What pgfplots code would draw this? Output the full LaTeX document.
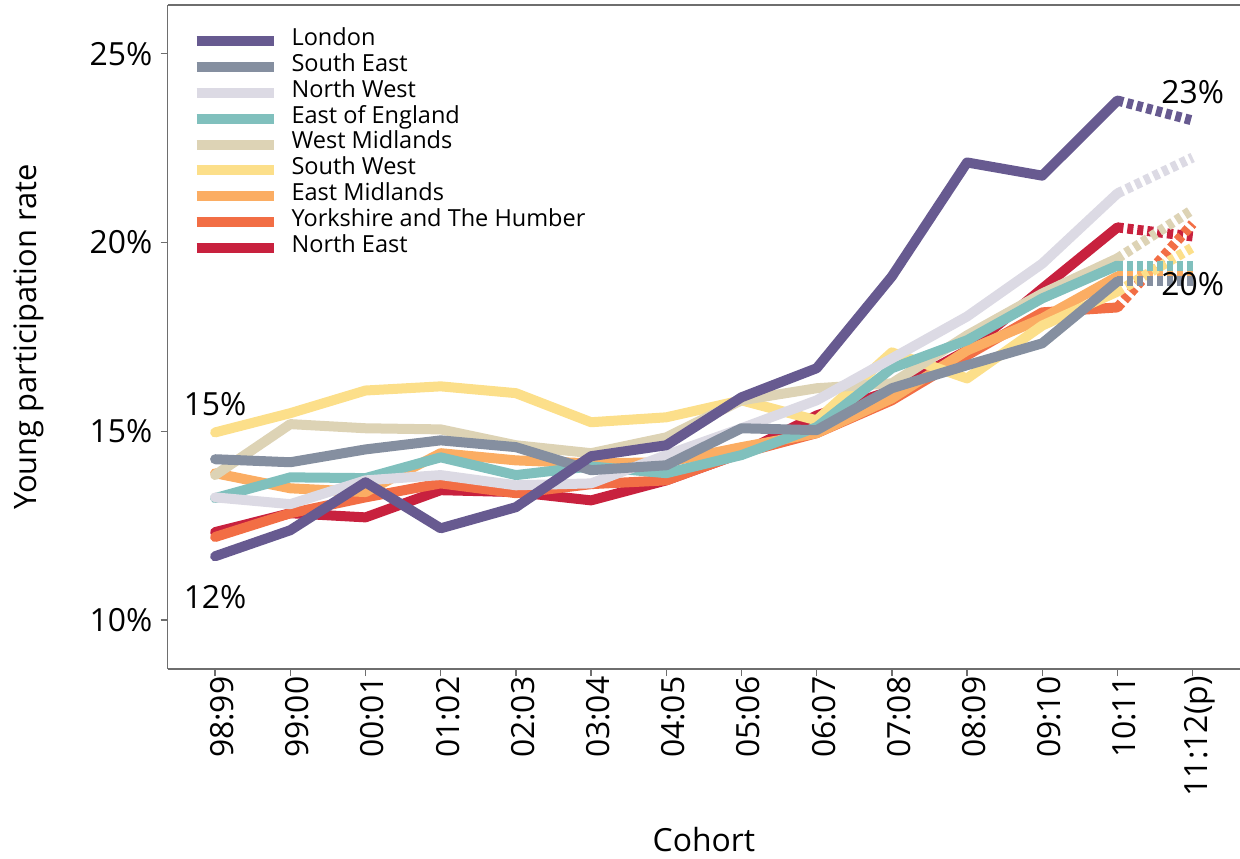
\documentclass[border=0pt]{standalone}
\usepackage{fontspec}
\setmainfont{Open Sans}
\usepackage{pgfplots}
\usepackage{pgfplotstable}
\pgfplotsset{compat=1.18}

\definecolor{london}{HTML}{675A90}
\definecolor{southeast}{HTML}{858FA0}
\definecolor{northwest}{HTML}{DCDAE4}
\definecolor{eastengland}{HTML}{80C0BD}
\definecolor{westmid}{HTML}{DDD3B5}
\definecolor{southwest}{HTML}{FCDF8A}
\definecolor{eastmid}{HTML}{FBAD63}
\definecolor{yorks}{HTML}{F26E45}
\definecolor{northeast}{HTML}{C8213E}
\definecolor{axisgray}{HTML}{6E6E6E}

% participation rate (%) by cohort, 0 = 98:99 ... 13 = 11:12(p)
\pgfplotstableread{
x  LON    SE     NW     EOE    WM     SW     EM     YH     NE
0  11.69  14.26  13.25  13.23  13.84  14.97  13.89  12.20  12.33
1  12.38  14.18  13.07  13.78  15.19  15.48  13.49  12.83  12.83
2  13.65  14.52  13.70  13.76  15.08  16.08  13.39  13.25  12.72
3  12.43  14.76  13.84  14.31  15.05  16.19  14.42  13.62  13.44
4  12.99  14.58  13.57  13.84  14.63  16.01  14.23  13.36  13.39
5  14.34  13.97  13.62  14.07  14.42  15.24  14.15  13.60  13.17
6  14.63  14.10  14.37  13.89  14.84  15.37  14.18  13.70  13.70
7  15.90  15.08  15.08  14.37  15.82  15.82  14.58  14.42  14.42
8  16.67  15.03  15.82  15.11  16.14  15.29  14.95  14.95  15.42
9  19.10  16.14  16.93  16.67  16.27  17.09  15.87  15.82  16.08
10 22.12  16.75  18.04  17.41  17.54  16.40  17.14  17.01  17.14
11 21.77  17.33  19.44  18.52  18.65  17.80  17.99  18.15  18.78
12 23.76  18.97  21.30  19.39  19.58  18.70  19.10  18.28  20.40
13 23.23  18.97  22.25  19.39  20.87  19.87  19.10  20.50  20.16
}\data

% solid line up to 10:11, dashed to the provisional 11:12
\newcommand{\region}[3]{%
  \addplot[#2, line width=5bp, line cap=round, line join=round,
    skip coords between index={13}{14}] table[x=x, y=#1] {\data};
  \addlegendentry{#3}
  \addplot[#2, line width=5bp, line cap=butt, dash pattern=on 3bp off 2bp,
    forget plot, skip coords between index={0}{12}] table[x=x, y=#1] {\data};
}

\begin{document}
\begin{tikzpicture}
\begin{axis}[name=ax, scale only axis, width=536bp, height=332bp,
  xmin=-0.63, xmax=13.63, ymin=8.7, ymax=26.29,
  axis x line*=bottom, axis y line*=left,
  axis line style={axisgray, line width=0.7bp},
  tick style={axisgray, line width=0.7bp},
  tick align=outside, major tick length=3.5bp,
  xtick={0,...,13},
  xticklabels={98:99,99:00,00:01,01:02,02:03,03:04,04:05,05:06,06:07,07:08,08:09,09:10,10:11,11:12(p)},
  xticklabel style={rotate=90, anchor=east, font=\fontsize{16}{18}\selectfont, inner sep=0pt, yshift=-3.5bp},
  ytick={10,15,20,25},
  yticklabels={10\%,15\%,20\%,25\%},
  yticklabel style={font=\fontsize{16}{18}\selectfont, inner sep=0pt, xshift=-4bp},
  xlabel={Cohort},
  ylabel={Young participation rate},
  every axis x label/.style={at={(axis description cs:0.5,0)}, yshift=-85bp, anchor=center, font=\fontsize{16}{18}\selectfont},
  every axis y label/.style={at={(axis description cs:0,0.5)}, xshift=-69.5bp, rotate=90, anchor=center, font=\fontsize{15.5}{18}\selectfont},
  clip=false,
  reverse legend,
  legend cell align=left,
  legend image code/.code={\draw[line width=5bp, line cap=butt, #1] (0bp,0bp) -- (38.5bp,0bp);},
  legend style={at={(axis description cs:0,1)}, anchor=north west, xshift=11.7bp, yshift=-11.5bp,
    draw=none, fill=none, inner sep=0pt, row sep=0pt,
    font=\fontsize{11.8}{13}\selectfont,
    nodes={inner sep=0pt, text height=8.6bp, text depth=4.3bp},
    /tikz/every odd column/.append style={column sep=6.5bp}},
]
\region{NE}{northeast}{North East}
\region{YH}{yorks}{Yorkshire and The Humber}
\region{EM}{eastmid}{East Midlands}
\region{SW}{southwest}{South West}
\region{WM}{westmid}{West Midlands}
\region{EOE}{eastengland}{East of England}
\region{NW}{northwest}{North West}
\region{SE}{southeast}{South East}
\region{LON}{london}{London}

\draw[axisgray, line width=0.7bp] (rel axis cs:0,1) -- (rel axis cs:1,1);

\node[font=\fontsize{16}{18}\selectfont] at (axis cs:0,15.71) {15\%};
\node[font=\fontsize{16}{18}\selectfont] at (axis cs:0,10.61) {12\%};
\node[font=\fontsize{16}{18}\selectfont] at (axis cs:13,23.97) {23\%};
\node[font=\fontsize{16}{18}\selectfont] at (axis cs:13,18.89) {20\%};
\end{axis}
\pgfresetboundingbox
\path[use as bounding box] ([xshift=-83.85bp, yshift=-94.5bp]ax.south west) rectangle ([yshift=2.5bp]ax.north east);
\end{tikzpicture}
\end{document}
